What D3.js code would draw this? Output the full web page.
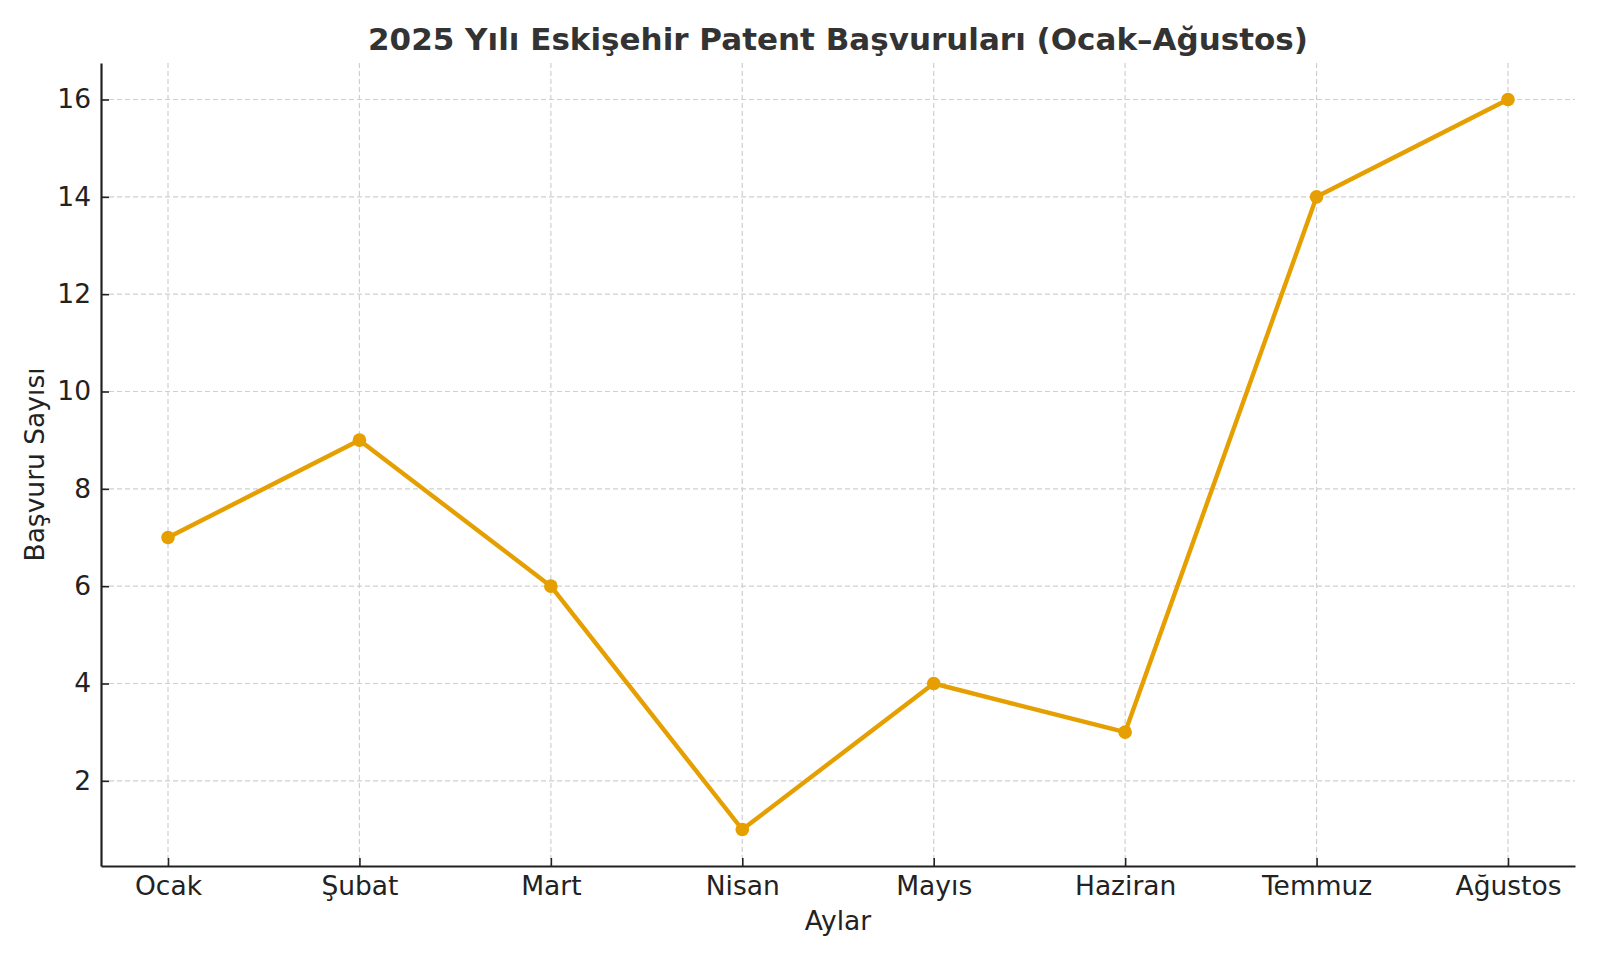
<!DOCTYPE html>
<html><head><meta charset="utf-8">
<script src="https://cdn.jsdelivr.net/npm/d3@7"></script>
<style>body{margin:0;background:#fff}svg{display:block}text{font-family:"DejaVu Sans",sans-serif}</style>
</head><body><svg id="c" width="1600" height="960"></svg>
<script>
const months = ["Ocak","Şubat","Mart","Nisan","Mayıs","Haziran","Temmuz","Ağustos"];
const applications = [7, 9, 6, 1, 4, 3, 14, 16];
const yTicks = [2, 4, 6, 8, 10, 12, 14, 16];
const titleText = "2025 Yılı Eskişehir Patent Başvuruları (Ocak–Ağustos)";
const xLabel = "Aylar";
const yLabel = "Başvuru Sayısı";

const W = 1600, H = 960;
const m = {left: 101, right: 1575, top: 63, bottom: 866};
const svg = d3.select("#c");
const x = d3.scaleLinear().domain([-0.35, months.length - 1 + 0.35]).range([m.left, m.right]);
const yMin = d3.min(applications), yMax = d3.max(applications), pad = (yMax - yMin) * 0.05;
const y = d3.scaleLinear().domain([yMin - pad, yMax + pad]).range([m.bottom, m.top]);

const grid = svg.append("g");
grid.selectAll(".gx").data(months).join("line")
  .attr("x1", (d,i)=>x(i)).attr("x2", (d,i)=>x(i)).attr("y1", m.top).attr("y2", m.bottom)
  .attr("stroke", "#cfcfcf").attr("stroke-width", 1.2).attr("stroke-dasharray", "5,3");
grid.selectAll(".gy").data(yTicks).join("line")
  .attr("x1", m.left).attr("x2", m.right).attr("y1", d=>y(d)).attr("y2", d=>y(d))
  .attr("stroke", "#cfcfcf").attr("stroke-width", 1.2).attr("stroke-dasharray", "5,3");

const fs = 26.5;
const xAxis = d3.axisBottom(x).tickValues(d3.range(months.length)).tickFormat(i=>months[i]).tickSizeInner(-8).tickSizeOuter(0).tickPadding(10);
const gx = svg.append("g").attr("transform", `translate(0,${m.bottom})`).call(xAxis);
gx.select(".domain").attr("stroke", "#222").attr("stroke-width", 2.2);
gx.selectAll(".tick line").attr("stroke", "#222").attr("stroke-width", 1.6);
gx.selectAll(".tick text").attr("font-size", fs).attr("fill", "#222").attr("font-family", "DejaVu Sans");

const yAxis = d3.axisLeft(y).tickValues(yTicks).tickSizeInner(-8).tickSizeOuter(0).tickPadding(10);
const gy = svg.append("g").attr("transform", `translate(${m.left},0)`).call(yAxis);
gy.select(".domain").attr("stroke", "#222").attr("stroke-width", 2.2);
gy.selectAll(".tick line").attr("stroke", "#222").attr("stroke-width", 1.6);
gy.selectAll(".tick text").attr("font-size", fs).attr("fill", "#222").attr("font-family", "DejaVu Sans");

const line = d3.line().x((d,i)=>x(i)).y(d=>y(d));
svg.append("path").datum(applications).attr("d", line).attr("fill", "none")
  .attr("stroke", "#E69F00").attr("stroke-width", 4.4).attr("stroke-linejoin", "round").attr("stroke-linecap", "round");
svg.selectAll(".pt").data(applications).join("circle")
  .attr("cx", (d,i)=>x(i)).attr("cy", d=>y(d)).attr("r", 6.8).attr("fill", "#E69F00");

svg.append("text").attr("x", (m.left+m.right)/2).attr("y", 50).attr("text-anchor", "middle")
  .attr("font-size", 31).attr("font-weight", "bold").attr("fill", "#333").text(titleText);
svg.append("text").attr("x", (m.left+m.right)/2).attr("y", 930).attr("text-anchor", "middle")
  .attr("font-size", fs).attr("fill", "#222").text(xLabel);
svg.append("text").attr("transform", `translate(44,${(m.top+m.bottom)/2}) rotate(-90)`).attr("text-anchor", "middle")
  .attr("font-size", fs).attr("fill", "#222").text(yLabel);
</script></body></html>
